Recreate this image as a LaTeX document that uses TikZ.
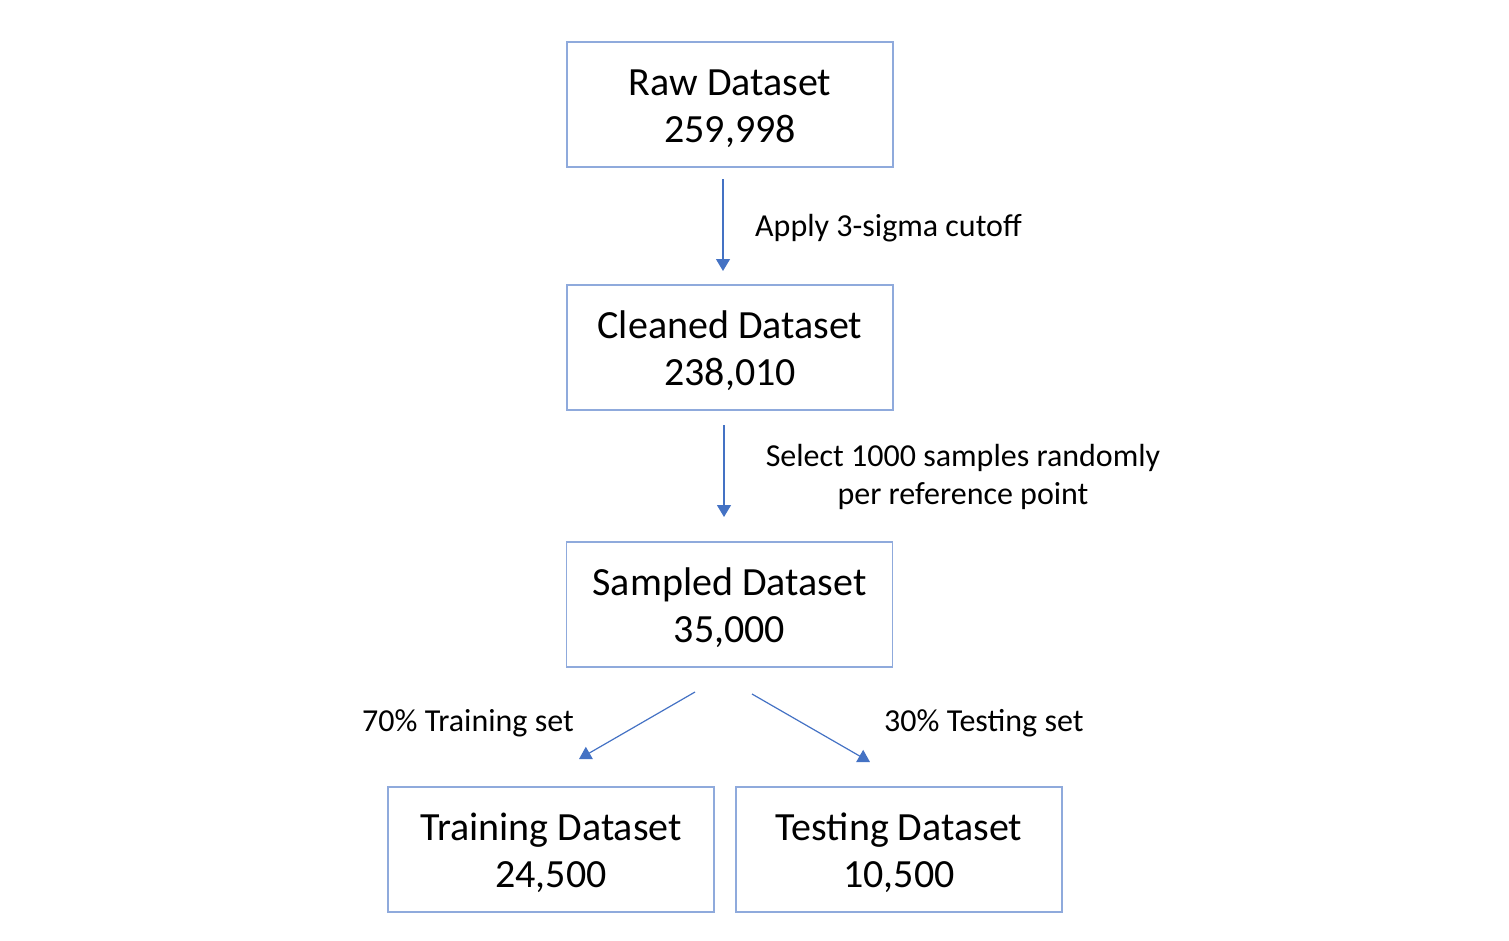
\documentclass[tikz,border=0pt]{standalone}
\usepackage{fontspec}
\setmainfont{Carlito}
\usetikzlibrary{arrows.meta}
\definecolor{boxblue}{HTML}{8FAADC}
\definecolor{lineblue}{HTML}{4472C4}
\newcommand{\boxtext}[2]{\raisebox{-5pt}[\height][\depth]{\begin{tabular}{@{}c@{}}#1\\#2\end{tabular}}}
\tikzset{
  box/.style={draw=boxblue, line width=1.8pt, minimum width=326pt, minimum height=125pt,
    inner sep=0pt, align=center, font=\fontsize{40}{47}\selectfont},
  lbl/.style={inner sep=0pt, align=center, font=\fontsize{32}{38}\selectfont},
  arr/.style={draw=lineblue, line width=1.2pt, -{Triangle[width=14pt,length=12pt]}},
}
\begin{document}
\begin{tikzpicture}[x=1pt,y=-1pt]
\useasboundingbox (0,0) rectangle (1509,940);
\node[box] (raw) at (730,104.5) {\boxtext{Raw Dataset}{259,998}};
\node[box] (clean) at (730,347.5) {\boxtext{Cleaned Dataset}{238,010}};
\node[box] (samp) at (729.5,604.5) {\boxtext{Sampled Dataset}{35,000}};
\node[box] (train) at (551,849.5) {\boxtext{Training Dataset}{24,500}};
\node[box] (test) at (899,849.5) {\boxtext{Testing Dataset}{10,500}};

\coordinate (a1s) at (723,179);
\coordinate (a1e) at (723,271);
\coordinate (a2s) at (724,425);
\coordinate (a2e) at (724,517);
\coordinate (a3s) at (695,692);
\coordinate (a3e) at (579,759);
\coordinate (a4s) at (752,694);
\coordinate (a4e) at (870,762);
\draw[arr] (a1s) -- (a1e);
\draw[arr] (a2s) -- (a2e);
\draw[arr] (a3s) -- (a3e);
\draw[arr] (a4s) -- (a4e);

\node[lbl, anchor=west] (l1) at (755,228) {Apply 3-sigma cutoff};
\node[lbl] (l2) at (963,477) {Select 1000 samples randomly\\per reference point};
\node[lbl, anchor=east] (l3) at (574,723) {70\% Training set};
\node[lbl, anchor=west] (l4) at (884,723) {30\% Testing set};
\end{tikzpicture}
\end{document}
